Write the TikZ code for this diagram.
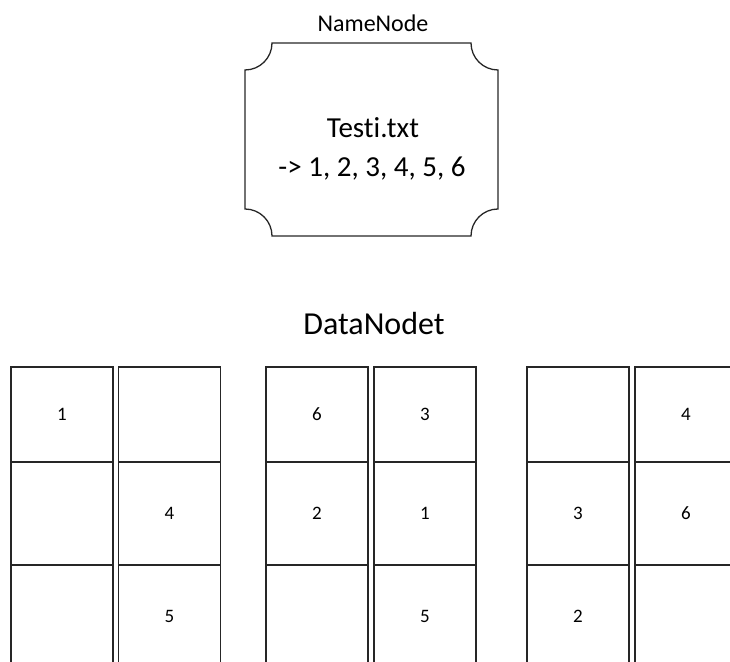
\documentclass[tikz,border=0pt]{standalone}
\usepackage{fontspec}
\setmainfont{Carlito}[Ligatures={NoCommon}]
\begin{document}
\begin{tikzpicture}[x=1pt,y=1pt,
  cell/.style={draw=black!85,line width=1.3pt,minimum width=102pt,inner sep=0pt,font=\fontsize{19}{23}\selectfont},
  lbl/.style={anchor=base,inner sep=0pt}]
\useasboundingbox (0,0) rectangle (730,661);
\clip (0,0) rectangle (730,661);
% NameNode plaque
\draw[line width=1.3pt,black!85] (272,618) -- (471,618) arc (180:270:27) -- (498,452) arc (90:180:27)
  -- (272,425) arc (0:90:27) -- (245,591) arc (270:360:27) -- cycle;
\node[lbl,font=\fontsize{24}{29}\selectfont] (nn) at (373,629) {NameNode};
\node[lbl,font=\fontsize{29}{35}\selectfont] (t1) at (373,523) {Testi.txt};
\node[lbl,font=\fontsize{29}{35}\selectfont] (t2) at (372,484) {-> 1, 2, 3, 4, 5, 6};
\node[lbl,font=\fontsize{32}{38}\selectfont] (dn) at (374,326) {DataNodet};
% cells: columns
\foreach \name/\cx/\a/\b/\c in {c1/62/1//, c2/169.5//4/5, c3/317/6/2/, c4/425/3/1/5, c5/578//3/2, c6/686/4/6/}{
  \node[cell,minimum height=95pt] (\name r1) at (\cx,246.5) {\a};
  \node[cell,minimum height=103pt] (\name r2) at (\cx,147.5) {\b};
  \node[cell,minimum height=103pt] (\name r3) at (\cx,44.5) {\c};
}
\end{tikzpicture}
\end{document}
